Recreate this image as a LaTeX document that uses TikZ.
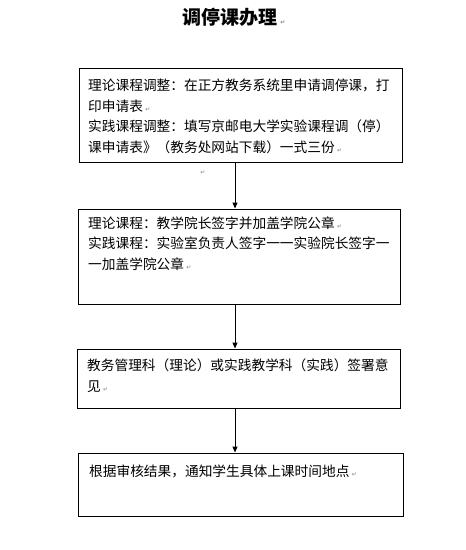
\documentclass[tikz,border=0pt]{standalone}
\usepackage{fontspec}
\usetikzlibrary{arrows.meta}
\newfontfamily\cjk{Noto Sans CJK SC}
\newfontfamily\parafont{DejaVu Sans}
\newcommand{\pmark}{{\parafont\fontsize{6}{6}\selectfont\color{gray}↵}}

\begin{document}
\begin{tikzpicture}[x=1pt,y=-1pt,
  box/.style={draw=black,line width=1pt,inner sep=0pt},
  txt/.style={anchor=north west,inner sep=0pt,align=left,font=\cjk\fontsize{13.7}{20.5}\selectfont},
  arr/.style={line width=1pt,-{Triangle[width=5pt,length=6pt]}}]
\useasboundingbox (0,0) rectangle (466,550);

\node[anchor=west,inner sep=0pt,font=\cjk\bfseries\fontsize{19}{19}\selectfont] (title) at (182,17) {调停课办理\,\pmark};

\node[box,minimum width=323pt,minimum height=94pt] (b1) at (240.5,115) {};
\node[box,minimum width=322pt,minimum height=95pt] (b2) at (239,256.5) {};
\node[box,minimum width=323pt,minimum height=59pt] (b3) at (238.5,378.5) {};
\node[box,minimum width=325pt,minimum height=63pt] (b4) at (240.5,484.5) {};

\node[txt] (t1) at (88,79) {理论课程调整：在正方教务系统里申请调停课，打\\印申请表\,\pmark\\实践课程调整：填写京邮电大学实验课程调（停）\\课申请表》（教务处网站下载）一式三份\,\pmark};
\node[txt] (t2) at (88,216.5) {理论课程：教学院长签字并加盖学院公章\,\pmark\\实践课程：实验室负责人签字一一实验院长签字一\\一加盖学院公章\,\pmark};
\node[txt] (t3) at (87,359) {教务管理科（理论）或实践教学科（实践）签署意\\见\,\pmark};
\node[txt] (t4) at (89,465) {根据审核结果，通知学生具体上课时间地点\,\pmark};

\node[inner sep=0pt] (gap) at (203,173) {\pmark};

\coordinate (spine) at (235,0);
\draw[arr] (b1.south -| spine) -- (b2.north -| spine);
\draw[arr] (b2.south -| spine) -- (b3.north -| spine);
\draw[arr] (b3.south -| spine) -- (b4.north -| spine);
\end{tikzpicture}
\end{document}
